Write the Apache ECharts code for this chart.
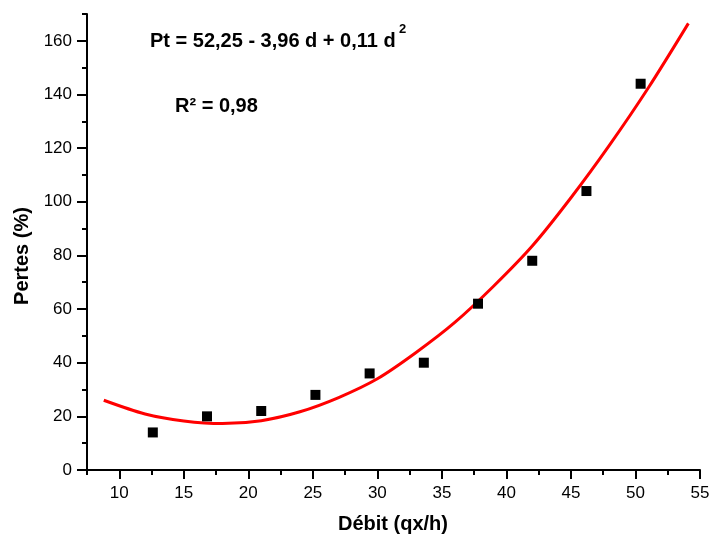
<!DOCTYPE html>
<html>
<head>
<meta charset="utf-8">
<script src="https://cdn.jsdelivr.net/npm/echarts@6/dist/echarts.min.js"></script>
<style>
  html, body { margin: 0; padding: 0; background: #fff; }
  #chart { width: 709px; height: 535px; }
</style>
</head>
<body>
<div id="chart"></div>
<script>
// Measured losses against flow rate
const debit = [12.6, 16.8, 21.0, 25.2, 29.4, 33.6, 37.8, 42.0, 46.2, 50.4];
const pertes = [14, 20, 22, 28, 36, 40, 62, 78, 104, 144];

// Fitted quadratic trend (red curve)
const fitDebit = [8.8, 12, 15, 18, 21, 24, 27, 30, 33, 36, 39, 42, 45, 48, 51, 54.1];
const fitPertes = [26.0, 20.9, 18.3, 17.3, 18.4, 21.7, 27.0, 34.0, 43.8, 55.0, 68.5, 83.5, 101.5, 121.2, 142.5, 166.5];

// Axis ticks
const xMajor = [10, 15, 20, 25, 30, 35, 40, 45, 50, 55];
const xMinor = [7.5, 12.5, 17.5, 22.5, 27.5, 32.5, 37.5, 42.5, 47.5, 52.5];
const yMajor = [0, 20, 40, 60, 80, 100, 120, 140, 160];
const yMinor = [10, 30, 50, 70, 90, 110, 130, 150, 170];

const FONT = '"Liberation Sans", Arial, Helvetica, sans-serif';

const chart = echarts.init(document.getElementById('chart'), null, { renderer: 'canvas' });

const axisLine = { show: true, lineStyle: { color: '#000', width: 2 } };

chart.setOption({
  animation: false,
  backgroundColor: '#fff',
  grid: { left: 87, right: 9, top: 14, bottom: 65, containLabel: false, outerBoundsMode: 'none' },
  xAxis: [
    {
      type: 'value', min: 7.5, max: 55,
      axisLine: axisLine,
      axisTick: { show: true, inside: false, length: 9, customValues: xMajor, lineStyle: { color: '#000', width: 2 } },
      axisLabel: { show: true, customValues: xMajor, margin: 15, color: '#000', fontSize: 17, fontFamily: FONT },
      splitLine: { show: false }
    },
    {
      type: 'value', min: 7.5, max: 55, position: 'bottom',
      axisLine: { show: false },
      axisTick: { show: true, inside: false, length: 5, customValues: xMinor, lineStyle: { color: '#000', width: 2 } },
      axisLabel: { show: false },
      splitLine: { show: false }
    }
  ],
  yAxis: [
    {
      type: 'value', min: 0, max: 170,
      axisLine: axisLine,
      axisTick: { show: true, inside: false, length: 10, customValues: yMajor, lineStyle: { color: '#000', width: 2 } },
      axisLabel: { show: true, customValues: yMajor, margin: 15, color: '#000', fontSize: 17, fontFamily: FONT },
      splitLine: { show: false }
    },
    {
      type: 'value', min: 0, max: 170, position: 'left',
      axisLine: { show: false },
      axisTick: { show: true, inside: false, length: 5, customValues: yMinor, lineStyle: { color: '#000', width: 2 } },
      axisLabel: { show: false },
      splitLine: { show: false }
    }
  ],
  series: [
    {
      type: 'line',
      xAxisIndex: 0, yAxisIndex: 0,
      data: fitDebit.map((d, i) => [d, fitPertes[i]]),
      smooth: 0.3,
      showSymbol: false,
      lineStyle: { color: '#ff0000', width: 3 },
      z: 2
    },
    {
      type: 'scatter',
      xAxisIndex: 0, yAxisIndex: 0,
      data: debit.map((d, i) => [d, pertes[i]]),
      symbol: 'rect',
      symbolSize: 10,
      itemStyle: { color: '#000', opacity: 1 },
      z: 3
    }
  ],
  graphic: [
    {
      type: 'text', left: 150, top: 31,
      style: { text: 'Pt = 52,25 - 3,96 d + 0,11 d', font: 'bold 20px ' + FONT, fill: '#000' }
    },
    {
      type: 'text', left: 399, top: 23,
      style: { text: '2', font: 'bold 13px ' + FONT, fill: '#000' }
    },
    {
      type: 'text', left: 175, top: 96,
      style: { text: 'R² = 0,98', font: 'bold 20px ' + FONT, fill: '#000' }
    },
    {
      type: 'text', x: 393, y: 524,
      style: { text: 'Débit (qx/h)', font: 'bold 20px ' + FONT, fill: '#000', align: 'center', verticalAlign: 'middle' }
    },
    {
      type: 'text', x: 22, y: 256, rotation: Math.PI / 2,
      style: { text: 'Pertes (%)', font: 'bold 20px ' + FONT, fill: '#000', align: 'center', verticalAlign: 'middle' }
    }
  ]
});
</script>
</body>
</html>
